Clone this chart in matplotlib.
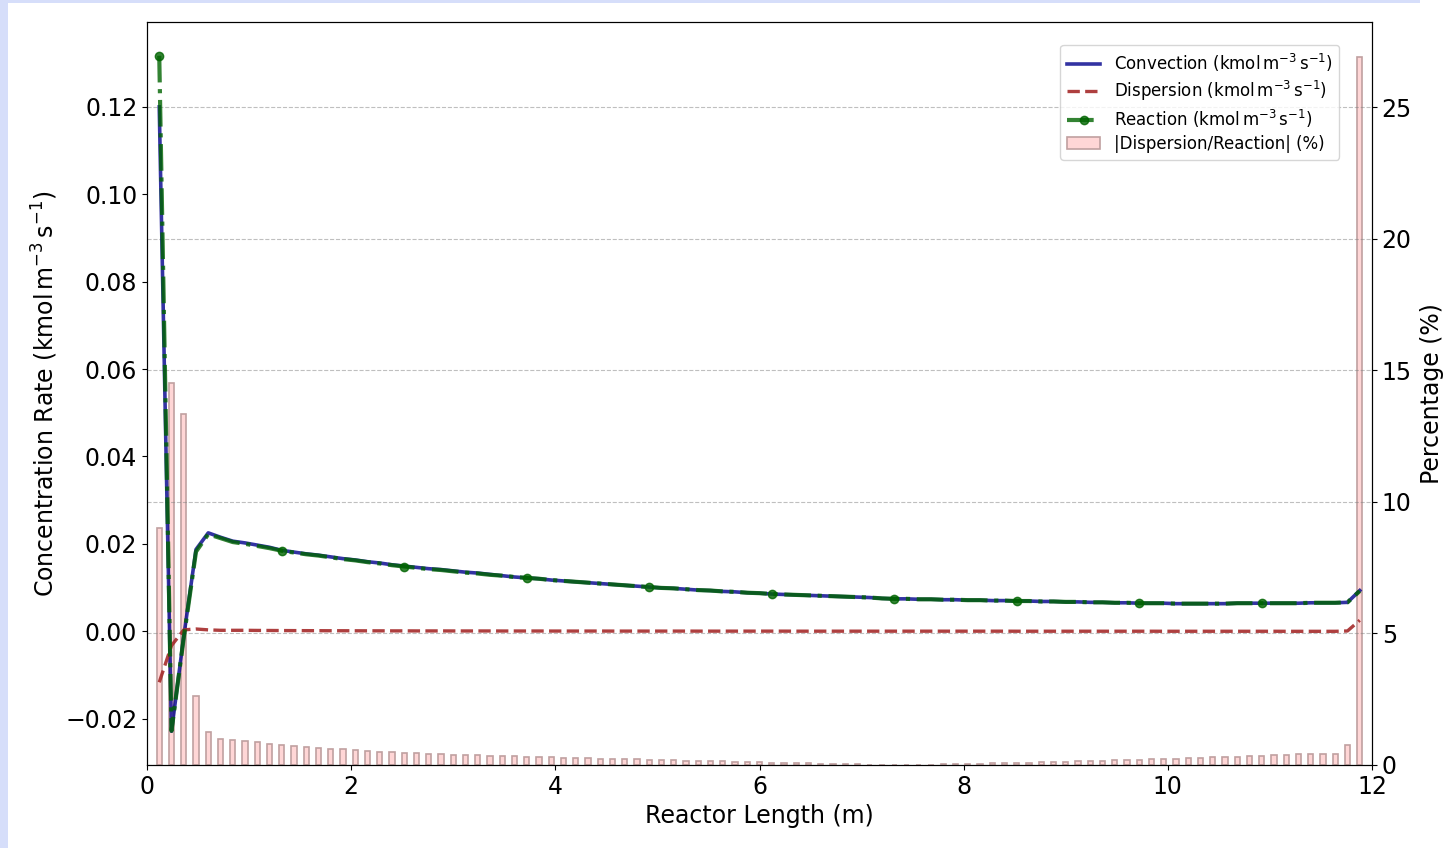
import matplotlib
matplotlib.use("Agg")
import matplotlib.pyplot as plt
from matplotlib.patches import Rectangle

# reactor positions (m)
length = [0.12 * (i + 1) for i in range(99)]

reaction = [0.1317, -0.0228, -0.0015, 0.0182, 0.0222, 0.0213, 0.0204, 0.0200, 0.0195, 0.0190,
            0.0184, 0.0180, 0.0176, 0.0173, 0.0169, 0.0165, 0.0162, 0.0158, 0.0155, 0.0151,
            0.0148, 0.0145, 0.0142, 0.0140, 0.0137, 0.0134, 0.0132, 0.0129, 0.0127, 0.0124,
            0.0122, 0.0120, 0.0117, 0.0115, 0.0113, 0.0111, 0.0109, 0.0107, 0.0105, 0.0103,
            0.0101, 0.0099, 0.0098, 0.0096, 0.0094, 0.0093, 0.0091, 0.0090, 0.0088, 0.0087,
            0.0085, 0.0084, 0.0083, 0.0082, 0.0081, 0.0080, 0.0079, 0.0078, 0.0077, 0.0075,
            0.0074, 0.0074, 0.0073, 0.0073, 0.0072, 0.0072, 0.0071, 0.0071, 0.0070, 0.0070,
            0.0069, 0.0069, 0.0068, 0.0068, 0.0067, 0.0067, 0.0066, 0.0066, 0.0065, 0.0065,
            0.0064, 0.0064, 0.0064, 0.0063, 0.0063, 0.0063, 0.0063, 0.0063, 0.0064, 0.0064,
            0.0064, 0.0064, 0.0064, 0.0064, 0.0065, 0.0065, 0.0065, 0.0066, 0.0092]

dispersion = [-0.0117, -0.0033, 0.0003, 0.0005, 0.0003, 0.0002, 0.0002, 0.0002, 0.00017, 0.00016,
              0.00014, 0.00013, 0.00012, 0.00011, 0.0001, 0.0001, 0.00009, 0.00008, 0.00008, 0.00007,
              0.00007, 0.00006, 0.00006, 0.00006, 0.00005, 0.00005, 0.00005, 0.00005, 0.00004, 0.00004,
              0.00004, 0.00004, 0.00003, 0.00003, 0.00003, 0.00003, 0.00003, 0.00002, 0.00002, 0.00002,
              0.00002, 0.00002, 0.00002, 0.00002, 0.00001, 0.00001, 0.00001, 0.00001, 0.00001, 0.00001,
              0.00001, 0.00001, 0.0, 0.0, 0.0, 0.0, 0.0, 0.0, 0.0, 0.0,
              0.0, 0.0, 0.0, 0.0, 0.0, 0.0, 0.0, 0.0, 0.0, 0.0,
              -0.00001, -0.00001, -0.00001, -0.00001, -0.00001, -0.00001, -0.00001, -0.00001, -0.00001, -0.00001,
              -0.00001, -0.00001, -0.00002, -0.00002, -0.00002, -0.00002, -0.00002, -0.00002, -0.00002, -0.00002,
              -0.00002, -0.00002, -0.00003, -0.00003, -0.00003, -0.00003, -0.00003, 0.00005, 0.0025]

convection = [0.1200, -0.0229, -0.0012, 0.0187, 0.0225, 0.0215, 0.0206, 0.0202, 0.0197, 0.0192,
              0.0185, 0.0181, 0.0177, 0.0174, 0.0170, 0.0166, 0.0163, 0.0159, 0.0156, 0.0152,
              0.0149, 0.0146, 0.0143, 0.0141, 0.0138, 0.0135, 0.0133, 0.0130, 0.0127, 0.0124,
              0.0122, 0.0120, 0.0117, 0.0115, 0.0113, 0.0111, 0.0109, 0.0107, 0.0105, 0.0103,
              0.0101, 0.0099, 0.0098, 0.0096, 0.0094, 0.0093, 0.0091, 0.0090, 0.0088, 0.0087,
              0.0085, 0.0084, 0.0083, 0.0082, 0.0081, 0.0080, 0.0079, 0.0078, 0.0077, 0.0075,
              0.0074, 0.0074, 0.0073, 0.0073, 0.0072, 0.0072, 0.0071, 0.0071, 0.0070, 0.0070,
              0.0069, 0.0069, 0.0068, 0.0068, 0.0067, 0.0067, 0.0066, 0.0066, 0.0065, 0.0065,
              0.0064, 0.0064, 0.0064, 0.0063, 0.0063, 0.0063, 0.0063, 0.0063, 0.0064, 0.0064,
              0.0064, 0.0064, 0.0064, 0.0064, 0.0065, 0.0065, 0.0065, 0.0066, 0.0093]

# |dispersion / reaction| in percent
ratio_pct = [9.01, 14.52, 13.35, 2.61, 1.26, 0.99, 0.94, 0.90, 0.86, 0.81,
             0.77, 0.74, 0.70, 0.66, 0.62, 0.60, 0.56, 0.53, 0.51, 0.48,
             0.46, 0.44, 0.43, 0.41, 0.39, 0.38, 0.37, 0.355, 0.342, 0.33,
             0.317, 0.304, 0.292, 0.279, 0.266, 0.254, 0.241, 0.230, 0.220, 0.215,
             0.203, 0.19, 0.177, 0.167, 0.16, 0.152, 0.139, 0.127, 0.114, 0.101,
             0.09, 0.08, 0.07, 0.06, 0.05, 0.04, 0.03, 0.02, 0.012, 0.006,
             0.002, 0.002, 0.006, 0.012, 0.02, 0.03, 0.04, 0.05, 0.06, 0.07,
             0.08, 0.09, 0.10, 0.115, 0.127, 0.139, 0.152, 0.171, 0.184, 0.19,
             0.209, 0.222, 0.235, 0.247, 0.26, 0.273, 0.292, 0.311, 0.317, 0.336,
             0.355, 0.374, 0.393, 0.406, 0.425, 0.437, 0.425, 0.76, 26.9]

unit = r'($\mathrm{kmol\,m^{-3}\,s^{-1}}$)'

fig = plt.figure(figsize=(14.55, 8.48), dpi=100)
# light frame strips from the original screenshot
fig.patches.append(Rectangle((0, 0), 8 / 1455, 1, transform=fig.transFigure,
                             facecolor='#d6defa', edgecolor='none', zorder=-10))
fig.patches.append(Rectangle((0, 1 - 3 / 848), 1420 / 1455, 3 / 848, transform=fig.transFigure,
                             facecolor='#d6defa', edgecolor='none', zorder=-10))

ax = fig.add_axes([147 / 1455, 1 - 765 / 848, (1372 - 147) / 1455, (765 - 22) / 848])
ax2 = ax.twinx()

bars = ax2.bar(length, ratio_pct, width=0.05, facecolor='#ffd6d6', edgecolor='#c0a0a0',
               linewidth=1.2, label='|Dispersion/Reaction| (%)')
ax2.set_ylim(0, max(ratio_pct) * 1.05)
ax2.grid(True, axis='y', linestyle='--', color='gray', alpha=0.5, linewidth=0.8)
ax2.set_ylabel('Percentage (%)', fontsize=17, labelpad=6)
ax2.tick_params(labelsize=17)

l1, = ax.plot(length, convection, color='darkblue', alpha=0.8, linewidth=2.6,
              label='Convection ' + unit)
l2, = ax.plot(length, dispersion, color='brown', alpha=0.9, linestyle='--', linewidth=2.4,
              label='Dispersion ' + unit)
l3, = ax.plot(length, reaction, color='darkgreen', alpha=0.8, linestyle='-.', linewidth=3,
              marker='o', markersize=6, markevery=10, label='Reaction ' + unit)

ax.set_zorder(ax2.get_zorder() + 1)
ax.patch.set_visible(False)

ax.set_xlim(0, 12)
ax.set_xlabel('Reactor Length (m)', fontsize=17)
ax.set_ylabel('Concentration Rate ' + unit, fontsize=17, labelpad=4)
ax.tick_params(labelsize=17)

ax.legend([l1, l2, l3, bars], [l1.get_label(), l2.get_label(), l3.get_label(), bars.get_label()],
          loc='upper right', fontsize=12, labelspacing=0.3, borderaxespad=0,
          bbox_to_anchor=((1339 - 147) / 1225, 1 - (45 - 22) / 743))

fig.savefig('out.png', dpi=100)
